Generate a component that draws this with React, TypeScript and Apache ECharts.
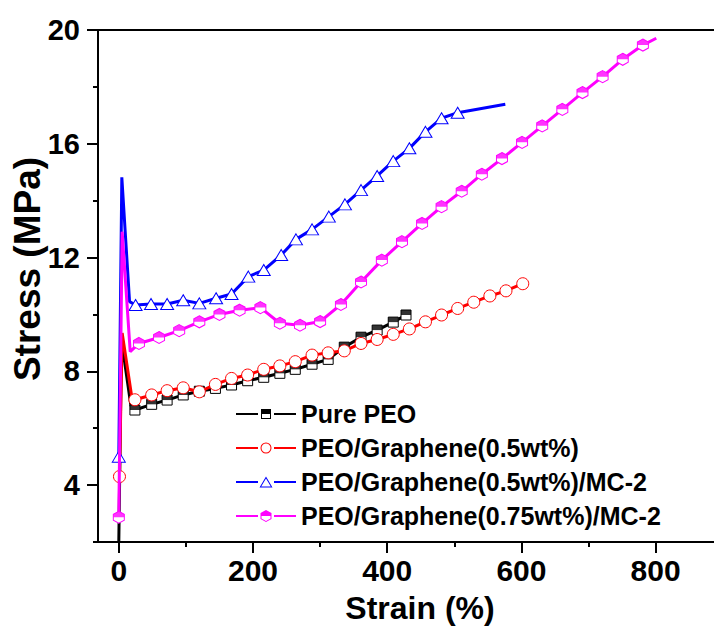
import React, { useEffect, useRef } from "react";
import * as echarts from "echarts";

// ---------- data ----------
const pureStrain = [0, 4, 18, 24, 49, 72, 96, 120, 144, 168, 192, 216, 240, 263, 288, 312, 336, 361, 385, 409, 428];
const pureStress = [2.0, 9.1, 6.8, 6.64, 6.84, 6.99, 7.17, 7.3, 7.4, 7.52, 7.67, 7.79, 7.93, 8.07, 8.25, 8.42, 8.85, 9.2, 9.45, 9.73, 9.98];
const pureNoMarker = [0, 1, 2];

const grStrain = [1, 5, 19, 24, 49, 72, 96, 120, 144, 168, 192, 216, 240, 263, 288, 312, 336, 361, 385, 409, 433, 457, 481, 505, 529, 553, 577, 602];
const grStress = [4.3, 9.35, 7.15, 7.0, 7.17, 7.32, 7.42, 7.28, 7.54, 7.75, 7.87, 8.07, 8.19, 8.34, 8.57, 8.65, 8.72, 8.98, 9.12, 9.3, 9.49, 9.74, 9.98, 10.21, 10.43, 10.65, 10.83, 11.08];
const grNoMarker = [1, 2];

const mc05Strain = [0, 4.5, 16, 25, 48, 72, 96, 120, 145, 168, 193, 216, 242, 264, 288, 313, 337, 361, 385, 409, 433, 457, 481, 505, 576];
const mc05Stress = [5.0, 14.82, 10.45, 10.33, 10.37, 10.37, 10.5, 10.39, 10.57, 10.72, 11.33, 11.56, 12.09, 12.64, 12.99, 13.44, 13.87, 14.37, 14.87, 15.39, 15.84, 16.42, 16.9, 17.09, 17.39];
const mc05NoMarker = [1, 2, 24];

const mc075Strain = [0, 5, 17, 30, 60, 90, 120, 150, 180, 211, 240, 270, 300, 331, 361, 392, 422, 452, 481, 511, 541, 571, 601, 631, 661, 691, 721, 751, 781, 801];
const mc075Stress = [2.87, 12.91, 8.69, 8.98, 9.19, 9.43, 9.74, 10.0, 10.15, 10.24, 9.69, 9.62, 9.75, 10.35, 11.14, 11.91, 12.56, 13.2, 13.79, 14.33, 14.93, 15.48, 16.05, 16.63, 17.21, 17.8, 18.36, 18.97, 19.47, 19.71];
const mc075NoMarker = [1, 2, 29];

const seriesNames = [
  "Pure PEO",
  "PEO/Graphene(0.5wt%)",
  "PEO/Graphene(0.5wt%)/MC-2",
  "PEO/Graphene(0.75wt%)/MC-2",
];

const xMajorTicks = [0, 200, 400, 600, 800];
const xMinorTicks = [100, 300, 500, 700];
const yMajorTicks = [4, 8, 12, 16, 20];
const yMinorTicks = [6, 10, 14, 18];

// ---------- styling ----------
const FONT = "Arial, 'Liberation Sans', sans-serif";
const COLORS = ["#000000", "#ff0000", "#0000ff", "#ff00ff"];

const HEX_FULL = "path://M5,0L10,3L10,9L5,12L0,9L0,3Z";
const HEX_TOP = "path://M5,0L10,3L10,6L0,6L0,3Z";
const RECT = "path://M0,0L10,0L10,10L0,10Z";

// Legend icons (line - marker - line), drawn in a 60x12 box
const LINES = "M0,5L22,5L22,7L0,7Z M38,5L60,5L60,7L38,7Z ";
const ICON_SQUARE =
  "path://" + LINES + "M25,1L35,1L35,6L25,6Z M25,6L35,6L35,11L25,11Z M26,6L26,10L34,10L34,6Z";
const ICON_CIRCLE =
  "path://" + LINES +
  "M35.5,6A5.5,5.5 0 1 1 24.5,6A5.5,5.5 0 1 1 35.5,6Z M34.5,6A4.5,4.5 0 1 0 25.5,6A4.5,4.5 0 1 0 34.5,6Z";
const ICON_TRI =
  "path://" + LINES + "M30,0.5L36.5,11.5L23.5,11.5Z M30,2.6L25.2,10.5L34.8,10.5Z";
const ICON_HEX =
  "path://" + LINES +
  "M30,0L35.5,3L35.5,6L24.5,6L24.5,3Z M24.5,6L35.5,6L35.5,9L30,12L24.5,9Z M25.5,6L25.5,8.4L30,10.9L34.5,8.4L34.5,6Z";

function buildData(xs: number[], ys: number[], noMarker: number[]) {
  return xs.map((x, i) =>
    noMarker.includes(i) ? { value: [x, ys[i]], symbol: "none" } : { value: [x, ys[i]] }
  );
}
function markerData(xs: number[], ys: number[], noMarker: number[]) {
  return xs.map((x, i) => [x, ys[i]]).filter((_, i) => !noMarker.includes(i));
}

export default function App() {
  const ref = useRef<HTMLDivElement>(null);
  useEffect(() => {
    if (!ref.current) return;
    const chart = echarts.init(ref.current, null, { renderer: "svg" });
    const xMin = -31;
    const xMax = 887;
    const tickLabel = { fontSize: 30, fontWeight: "bold", color: "#000", fontFamily: FONT };
    const option: any = {
      animation: false,
      backgroundColor: "#fff",
      grid: { left: 98, top: 30, right: 0, bottom: 87, containLabel: false, outerBoundsMode: "none" },
      xAxis: [
        {
          type: "value", min: xMin, max: xMax, position: "bottom",
          axisLine: { show: true, onZero: false, lineStyle: { color: "#000", width: 2 } },
          axisTick: { show: true, length: 11, lineStyle: { color: "#000", width: 2 }, customValues: xMajorTicks },
          axisLabel: { ...tickLabel, margin: 13, customValues: xMajorTicks },
          splitLine: { show: false },
          name: "Strain (%)", nameLocation: "middle", nameGap: 50, nameMoveOverlap: false,
          nameTextStyle: { fontSize: 32, fontWeight: "bold", color: "#000", fontFamily: FONT, padding: [0, 0, 0, 28] },
        },
        {
          type: "value", min: xMin, max: xMax, position: "bottom",
          axisLine: { show: false, onZero: false },
          axisTick: { show: true, length: 5, lineStyle: { color: "#000", width: 2 }, customValues: xMinorTicks },
          axisLabel: { show: false }, splitLine: { show: false },
        },
        {
          type: "value", min: xMin, max: xMax, position: "top",
          axisLine: { show: true, onZero: false, lineStyle: { color: "#000", width: 2 } },
          axisTick: { show: false }, axisLabel: { show: false }, splitLine: { show: false },
        },
      ],
      yAxis: [
        {
          type: "value", min: 2, max: 20, position: "left",
          axisLine: { show: true, onZero: false, lineStyle: { color: "#000", width: 2 } },
          axisTick: { show: true, length: 11, lineStyle: { color: "#000", width: 2 }, customValues: yMajorTicks },
          axisLabel: { ...tickLabel, fontSize: 29, margin: 18, customValues: yMajorTicks },
          splitLine: { show: false },
          name: "Stress (MPa)", nameLocation: "middle", nameGap: 52, nameMoveOverlap: false,
          nameTextStyle: { fontSize: 37, fontWeight: "bold", color: "#000", fontFamily: FONT, padding: [0, 0, 0, 34] },
        },
        {
          type: "value", min: 2, max: 20, position: "left",
          axisLine: { show: false, onZero: false },
          axisTick: { show: true, length: 5, lineStyle: { color: "#000", width: 2 }, customValues: yMinorTicks },
          axisLabel: { show: false }, splitLine: { show: false },
        },
      ],
      legend: {
        orient: "vertical", left: 231, top: 395, itemWidth: 60, itemHeight: 12, itemGap: 6,
        textStyle: { fontSize: 25, fontWeight: "bold", color: "#000", fontFamily: FONT, lineHeight: 28 },
        data: [
          { name: seriesNames[0], icon: ICON_SQUARE, itemStyle: { color: COLORS[0], borderWidth: 0 } },
          { name: seriesNames[1], icon: ICON_CIRCLE, itemStyle: { color: COLORS[1], borderWidth: 0 } },
          { name: seriesNames[2], icon: ICON_TRI, itemStyle: { color: COLORS[2], borderWidth: 0 } },
          { name: seriesNames[3], icon: ICON_HEX, itemStyle: { color: COLORS[3], borderWidth: 0 } },
        ],
      },
      series: [
        {
          name: seriesNames[0], type: "line", z: 2, data: buildData(pureStrain, pureStress, pureNoMarker),
          symbol: RECT, symbolSize: [10, 10], showAllSymbol: true,
          lineStyle: { color: COLORS[0], width: 3 },
          itemStyle: { color: "#fff", borderColor: COLORS[0], borderWidth: 1 },
        },
        {
          name: "pure-top", type: "scatter", z: 3, data: markerData(pureStrain, pureStress, pureNoMarker),
          symbol: RECT, symbolSize: [10, 5], symbolOffset: [0, -2.5],
          itemStyle: { color: COLORS[0] }, silent: true,
        },
        {
          name: seriesNames[1], type: "line", z: 4, data: buildData(grStrain, grStress, grNoMarker),
          symbol: "circle", symbolSize: 12, showAllSymbol: true,
          lineStyle: { color: COLORS[1], width: 3 },
          itemStyle: { color: "#fff", borderColor: COLORS[1], borderWidth: 1 },
        },
        {
          name: seriesNames[2], type: "line", z: 5, data: buildData(mc05Strain, mc05Stress, mc05NoMarker),
          symbol: "triangle", symbolSize: [13, 11], showAllSymbol: true,
          lineStyle: { color: COLORS[2], width: 3 },
          itemStyle: { color: "#fff", borderColor: COLORS[2], borderWidth: 1 },
        },
        {
          name: seriesNames[3], type: "line", z: 6, data: buildData(mc075Strain, mc075Stress, mc075NoMarker),
          symbol: HEX_FULL, symbolSize: [11, 12], showAllSymbol: true,
          lineStyle: { color: COLORS[3], width: 3 },
          itemStyle: { color: "#fff", borderColor: COLORS[3], borderWidth: 1 },
        },
        {
          name: "mc075-top", type: "scatter", z: 7, data: markerData(mc075Strain, mc075Stress, mc075NoMarker),
          symbol: HEX_TOP, symbolSize: [11, 6], symbolOffset: [0, -3],
          itemStyle: { color: COLORS[3] }, silent: true,
        },
      ],
      graphic: [
        { type: "line", shape: { x1: 93, y1: 542, x2: 98, y2: 542 }, style: { stroke: "#000", lineWidth: 2 } },
      ],
    };
    chart.setOption(option);
    return () => chart.dispose();
  }, []);
  return <div ref={ref} style={{ position: "absolute", left: 0, top: 0, width: 714, height: 629 }} />;
}
